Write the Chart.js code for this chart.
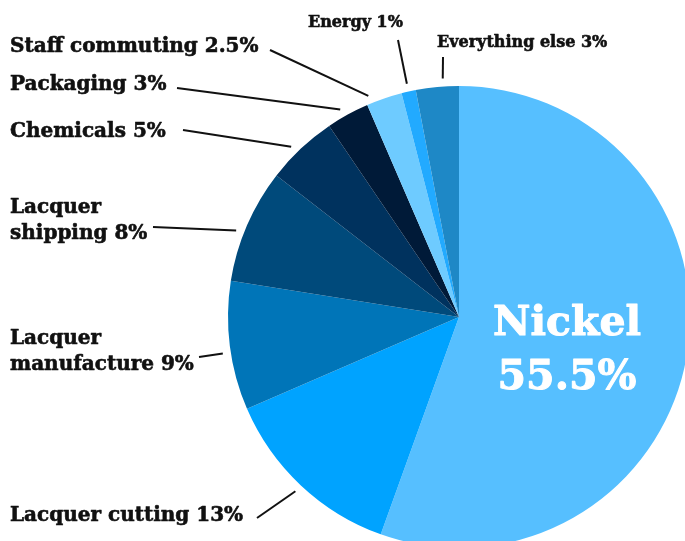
<!DOCTYPE html>
<html>
<head>
<meta charset="utf-8">
<script src="https://cdn.jsdelivr.net/npm/chart.js@4"></script>
<style>
  html, body { margin: 0; padding: 0; background: #fff; }
  #wrap { width: 685px; height: 541px; overflow: hidden; position: relative; }
  canvas { position: absolute; left: 0; top: 0; }
</style>
</head>
<body>
<div id="wrap"><canvas id="chart" width="700" height="560"></canvas></div>
<script>
// data, clockwise from 12 o'clock
const categories = ['Nickel', 'Lacquer cutting', 'Lacquer manufacture', 'Lacquer shipping',
  'Chemicals', 'Packaging', 'Staff commuting', 'Energy', 'Everything else']
const shares = [55.5, 13, 9, 8, 5, 3, 2.5, 1, 3]
const sliceColors = ['#56bfff', '#00a3ff', '#0075b8', '#004a7b', '#00325e',
  '#001a38', '#6ecbff', '#22aaff', '#1e88c6']

// where each label sits (text left edge, middle of first line), where its leader line ends,
// and a small angle nudge (degrees) for where the line meets the pie
const labelLayout = [
  { center: true, x: 567, y: 324, size: 41, lh: 54, color: '#fff' },
  { x: 10, y: 516, size: 20, lh: 26, lx: 257, ly: 518 },
  { x: 10, y: 339, size: 20, lh: 26, lx: 199, ly: 357, nudge: -1.6, split: true },
  { x: 10, y: 208, size: 20, lh: 26, lx: 153, ly: 227, nudge: -2.2, split: true },
  { x: 10, y: 132, size: 20, lh: 26, lx: 183, ly: 130, nudge: -1.4 },
  { x: 10, y: 85, size: 20, lh: 26, lx: 177, ly: 88, nudge: -1 },
  { x: 10, y: 47, size: 20, lh: 26, lx: 270, ly: 50, nudge: -3.4 },
  { x: 308, y: 23, size: 16, lh: 20, lx: 398, ly: 40 },
  { x: 437, y: 43, size: 16, lh: 20, lx: 443, ly: 57, nudge: 1.5 }
]

const FONT = '"DejaVu Serif", serif'

const labelPlugin = {
  id: 'sliceLabels',
  afterDraw(chart) {
    const ctx = chart.ctx
    const arcs = chart.getDatasetMeta(0).data
    ctx.save()
    arcs.forEach((arc, i) => {
      const lay = labelLayout[i]
      const pct = shares[i] + '%'
      let lines
      if (lay.center) lines = [categories[i], pct]
      else if (lay.split) {
        const parts = categories[i].split(' ')
        lines = [parts[0], parts.slice(1).join(' ') + ' ' + pct]
      } else lines = [categories[i] + ' ' + pct]

      const col = lay.color || '#111'
      ctx.font = 'bold ' + lay.size + 'px ' + FONT
      ctx.fillStyle = col
      ctx.strokeStyle = col
      ctx.lineWidth = lay.center ? 1 : 0.6
      ctx.lineJoin = 'round'
      ctx.textBaseline = 'middle'
      ctx.textAlign = lay.center ? 'center' : 'left'
      lines.forEach((t, k) => {
        ctx.fillText(t, lay.x, lay.y + k * lay.lh)
        ctx.strokeText(t, lay.x, lay.y + k * lay.lh)
      })

      if (lay.lx !== undefined) {
        const p = arc.getProps(['x', 'y', 'startAngle', 'endAngle', 'outerRadius'], true)
        const mid = (p.startAngle + p.endAngle) / 2 + (lay.nudge || 0) * Math.PI / 180
        const r = p.outerRadius + 8
        ctx.beginPath()
        ctx.moveTo(lay.lx, lay.ly)
        ctx.lineTo(p.x + Math.cos(mid) * r, p.y + Math.sin(mid) * r)
        ctx.strokeStyle = '#111'
        ctx.lineWidth = 2
        ctx.stroke()
      }
    })
    ctx.restore()
  }
}

new Chart(document.getElementById('chart'), {
  type: 'pie',
  data: {
    labels: categories,
    datasets: [{
      data: shares,
      backgroundColor: sliceColors,
      borderWidth: 0
    }]
  },
  options: {
    responsive: false,
    animation: false,
    layout: { padding: { left: 228, top: 86, right: 10, bottom: 12 } },
    plugins: {
      legend: { display: false },
      tooltip: { enabled: false }
    }
  },
  plugins: [labelPlugin]
})
</script>
</body>
</html>
